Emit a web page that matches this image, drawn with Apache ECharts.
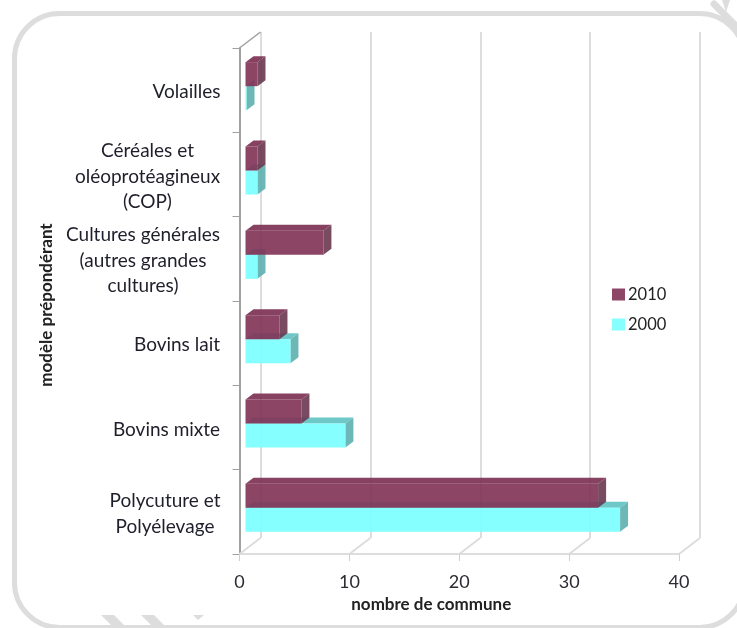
<!DOCTYPE html>
<html><head><meta charset="utf-8">
<style>html,body{margin:0;padding:0;background:#fff}#c{width:737px;height:628px}</style>
<script src="https://cdn.jsdelivr.net/npm/echarts@6/dist/echarts.min.js"></script>
</head><body><div id="c"></div>
<script>
const categories = ["Polycuture et\nPolyélevage","Bovins mixte","Bovins lait","Cultures générales\n(autres grandes\ncultures)","Céréales et\noléoprotéagineux\n(COP)","Volailles"];
const values2010 = [32,5,3,7,1,1];
const values2000 = [34,9,4,1,1,0];
const ticks = [0,10,20,30,40];
const FONT = 'Lato';
const LABEL_SIZE = 19;

const mc = document.createElement('canvas').getContext('2d');
mc.font = LABEL_SIZE + 'px ' + FONT;
const rich = {};
const labelText = categories.map((c,i)=>{
  const lines = c.split('\n');
  const w = Math.ceil(Math.max(...lines.map(l=>mc.measureText(l).width)));
  rich['r'+i] = {width:w, align:'center', fontFamily:FONT, fontSize:LABEL_SIZE, lineHeight:25.5, color:'#1f1f2b'};
  return lines.map(l=>'{r'+i+'|'+l+'}').join('\n');
});

const DEPTH = {x:21, y:-16};
const BAR = {off:6, lift:-4, h:24, dx:8, dy:-6};

function barRenderer(upper, front, top, side){
  return function(params, api){
    const v = api.value(0), cat = api.value(1);
    const base = api.coord([0,cat]), end = api.coord([v,cat]);
    const x0 = base[0]+BAR.off, x1 = end[0]+BAR.off+1;
    const c = base[1]+BAR.lift;
    const y0 = upper ? c-BAR.h : c, y1 = y0+BAR.h;
    return {type:'group', children:[
      {type:'polygon', shape:{points:[[x0,y0],[x0+BAR.dx,y0+BAR.dy],[x1+BAR.dx,y0+BAR.dy],[x1,y0]]}, style:{fill:top}},
      {type:'polygon', shape:{points:[[x1,y0],[x1+BAR.dx,y0+BAR.dy],[x1+BAR.dx,y1+BAR.dy],[x1,y1]]}, style:{fill:side}},
      {type:'rect', shape:{x:x0,y:y0,width:x1-x0,height:BAR.h}, style:{fill:front}}
    ]};
  };
}
function floorRenderer(params, api){
  const t = api.value(0), p = api.coord([t,0]);
  const cs = params.coordSys, b = cs.y+cs.height;
  const kids = [{type:'line', shape:{x1:p[0],y1:b,x2:p[0]+DEPTH.x,y2:b+DEPTH.y}, style:{stroke:'#dcdcdc',lineWidth:2}}];
  if(t===0) kids.push({type:'line', shape:{x1:p[0],y1:cs.y,x2:p[0]+DEPTH.x,y2:cs.y+DEPTH.y}, style:{stroke:'#a0a0a0',lineWidth:1.5}});
  return {type:'group', children:kids};
}

const GR = '#dddddd';
const chart = echarts.init(document.getElementById('c'), null, {renderer:'canvas'});
chart.setOption({
  animation:false,
  backgroundColor:'#fff',
  graphic:{elements:[
    {type:'rect', z:-1, shape:{x:14.5,y:13.5,width:730,height:614,r:45}, style:{fill:'none',stroke:GR,lineWidth:5}},
    {type:'line', z:-1, shape:{x1:714,y1:4,x2:742,y2:32}, style:{stroke:GR,lineWidth:7,lineCap:'round'}},
    {type:'polygon', z:-1, shape:{points:[[722,0],[730,0],[726,12]]}, style:{fill:GR}},
    {type:'polygon', z:-1, shape:{points:[[101,615],[114,615],[127,628],[114,628]]}, style:{fill:GR}},
    {type:'polygon', z:-1, shape:{points:[[141,615],[154,615],[167,628],[154,628]]}, style:{fill:GR}},
    {type:'polygon', z:-1, shape:{points:[[193,615],[204,615],[198,620]]}, style:{fill:GR}}
  ]},
  legend:{
    data:['2010','2000'], orient:'vertical', left:607, top:281, itemWidth:13, itemHeight:12, itemGap:13,
    icon:'rect', textStyle:{fontFamily:FONT,fontSize:16.5,color:'#222',padding:[0,0,0,-2]}
  },
  grid:[
    {left:239.5, right:58, top:48, bottom:74},
    {left:260.5, right:37, top:32, bottom:90}
  ],
  xAxis:[
    {type:'value', gridIndex:0, min:0, max:40, interval:10,
     axisLine:{show:true,lineStyle:{color:GR,width:2}},
     axisTick:{show:true,length:7,lineStyle:{color:'#cfcfcf',width:1}},
     splitLine:{show:false},
     axisLabel:{fontFamily:FONT,fontSize:18,color:'#2b2b33',margin:19},
     name:'nombre de commune', nameLocation:'middle', nameGap:41,
     nameTextStyle:{fontFamily:FONT,fontSize:17,fontWeight:'bold',color:'#222',padding:[0,56,0,0]}},
    {type:'value', gridIndex:1, min:0, max:40, interval:10,
     axisLine:{show:false},axisTick:{show:false},axisLabel:{show:false},
     splitLine:{show:true,lineStyle:{color:GR,width:2}}}
  ],
  yAxis:[
    {type:'category', gridIndex:0, data:labelText,
     axisLine:{show:true,lineStyle:{color:'#a0a0a0',width:2}},
     axisTick:{show:true,length:7,alignWithLabel:false,lineStyle:{color:'#a0a0a0',width:1}},
     axisLabel:{margin:19,interval:0,align:'right',rich:rich,padding:[4,0,0,0]},
     name:'modèle prépondérant', nameLocation:'middle', nameGap:180, nameRotate:90,
     nameTextStyle:{fontFamily:FONT,fontSize:17,fontWeight:'bold',color:'#222',padding:[0,8,0,0]}},
    {type:'category', gridIndex:1, data:categories, show:false}
  ],
  series:[
    {type:'custom', name:'floor', xAxisIndex:0, yAxisIndex:0, silent:true, clip:false, z:1,
     data:ticks.map(t=>[t,0]), renderItem:floorRenderer},
    {type:'custom', name:'2000', xAxisIndex:0, yAxisIndex:0, clip:false, z:3,
     itemStyle:{color:'#88ffff'},
     data:values2000.map((v,i)=>[v,i]),
     renderItem:barRenderer(false,'rgba(123,255,255,0.92)','rgba(94,194,194,0.9)','rgba(94,175,175,0.9)')},
    {type:'custom', name:'2010', xAxisIndex:0, yAxisIndex:0, clip:false, z:4,
     itemStyle:{color:'#8e4666'},
     data:values2010.map((v,i)=>[v,i]),
     renderItem:barRenderer(true,'rgba(129,49,85,0.9)','rgba(125,50,85,0.92)','rgba(105,55,80,0.9)')}
  ]
});
</script></body></html>
